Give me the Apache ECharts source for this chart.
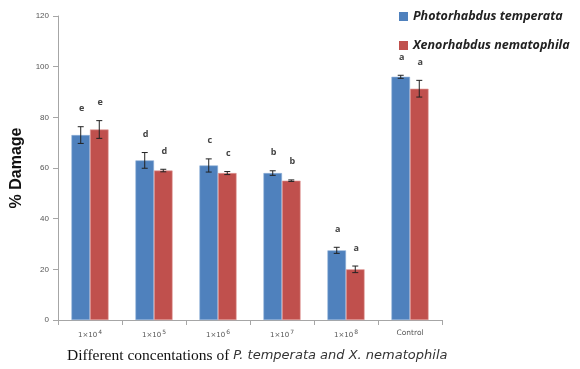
<!DOCTYPE html>
<html>
<head>
<meta charset="utf-8">
<script src="https://cdn.jsdelivr.net/npm/echarts@6/dist/echarts.min.js"></script>
<style>
  html, body { margin: 0; padding: 0; background: #fff; }
  #chart { width: 580px; height: 369px; }
</style>
</head>
<body>
<div id="chart"></div>
<script>
// Concentrations tested (exponent of 1×10^n), plus the control group
const categories = ['1×10^4', '1×10^5', '1×10^6', '1×10^7', '1×10^8', 'Control'];
const seriesNames = ['Photorhabdus temperata', 'Xenorhabdus nematophila'];

// Mean % damage
const ptMean = [73, 63, 61, 58, 27.5, 96];
const xnMean = [75.2, 59, 58, 55, 20, 91.3];

// Standard error
const ptErr = [3.3, 3.1, 2.6, 0.9, 1.2, 0.6];
const xnErr = [3.5, 0.5, 0.6, 0.3, 1.3, 3.3];

// Significance letters
const ptLetters = ['e', 'd', 'c', 'b', 'a', 'a'];
const xnLetters = ['e', 'd', 'c', 'b', 'a', 'a'];

const yTicks = [0, 20, 40, 60, 80, 100, 120];

const colors = ['#4F81BD', '#C0504D'];

const chart = echarts.init(document.getElementById('chart'));

function catLabel(c) {
  if (c.indexOf('^') < 0) return '{c|' + c + '}';
  const parts = c.split('^');
  return '{n|' + parts[0] + '}{s|' + parts[1] + '}';
}

// Error bars with a letter above each one; offset shifts onto the right bar of a pair
function errorSeries(means, errs, letters, sideIndex) {
  return {
    type: 'custom',
    name: seriesNames[sideIndex] + ' error',
    z: 5,
    data: means.map((m, i) => [i, m - errs[i], m + errs[i], letters[i]]),
    renderItem: function (params, api) {
      const i = api.value(0);
      const lowP = api.coord([i, api.value(1)]);
      const highP = api.coord([i, api.value(2)]);
      const band = api.size([1, 0])[0];
      const barW = band * 0.29;
      const x = lowP[0] + (sideIndex === 0 ? -barW / 2 : barW / 2);
      const cap = 3;
      const st = { stroke: '#222', lineWidth: 1 };
      return {
        type: 'group',
        children: [
          { type: 'line', shape: { x1: x, y1: highP[1], x2: x, y2: lowP[1] }, style: st },
          { type: 'line', shape: { x1: x - cap, y1: highP[1], x2: x + cap, y2: highP[1] }, style: st },
          { type: 'line', shape: { x1: x - cap, y1: lowP[1], x2: x + cap, y2: lowP[1] }, style: st },
          {
            type: 'text',
            style: {
              text: api.value(3),
              x: x + 1,
              y: highP[1] - 18,
              fill: '#444',
              font: 'bold 9px "Open Sans", sans-serif',
              align: 'center',
              verticalAlign: 'middle'
            }
          }
        ]
      };
    }
  };
}

chart.setOption({
  animation: false,
  color: colors,
  grid: { left: 58, right: 138, top: 16, bottom: 49 },
  legend: {
    orient: 'vertical',
    left: 394,
    top: 5,
    itemWidth: 9,
    itemHeight: 9,
    itemGap: 16,
    icon: 'rect',
    itemStyle: { borderWidth: 0 },
    data: seriesNames,
    textStyle: {
      fontFamily: '"Open Sans", sans-serif',
      fontStyle: 'italic',
      fontWeight: 'bold',
      fontSize: 12.5,
      color: '#222'
    }
  },
  xAxis: {
    type: 'category',
    data: categories,
    axisLine: { lineStyle: { color: '#a6a6a6' } },
    axisTick: { show: true, length: 5, lineStyle: { color: '#a6a6a6' } },
    axisLabel: {
      interval: 0,
      margin: 9,
      formatter: catLabel,
      rich: {
        n: { fontSize: 7, color: '#555', fontFamily: '"DejaVu Sans", sans-serif' },
        s: { fontSize: 6, color: '#555', verticalAlign: 'top', padding: [0, 0, 6, 1], fontFamily: '"DejaVu Sans", sans-serif' },
        c: { fontSize: 7.5, color: '#555', fontFamily: '"DejaVu Sans", sans-serif', padding: [0, 0, 5, 0] }
      }
    }
  },
  yAxis: {
    type: 'value',
    min: 0,
    max: 120,
    interval: 20,
    name: '% Damage',
    nameLocation: 'middle',
    nameGap: 32,
    nameTextStyle: {
      fontFamily: '"Liberation Sans", Arial, sans-serif',
      fontWeight: 'bold',
      fontSize: 16,
      color: '#111'
    },
    axisLine: { show: true, lineStyle: { color: '#a6a6a6' } },
    axisTick: { show: true, length: 5, lineStyle: { color: '#a6a6a6' } },
    splitLine: { show: false },
    axisLabel: {
      margin: 9,
      fontSize: 8,
      color: '#555',
      formatter: function (v) { return yTicks.indexOf(v) >= 0 ? String(v) : ''; }
    }
  },
  series: [
    {
      name: seriesNames[0],
      type: 'bar',
      data: ptMean,
      barGap: '0%',
      barCategoryGap: '42%',
      itemStyle: { color: colors[0], borderColor: '#8fb0d9', borderWidth: 0.6 }
    },
    {
      name: seriesNames[1],
      type: 'bar',
      data: xnMean,
      itemStyle: { color: colors[1], borderColor: '#e09a98', borderWidth: 0.6 }
    },
    errorSeries(ptMean, ptErr, ptLetters, 0),
    errorSeries(xnMean, xnErr, xnLetters, 1)
  ],
  graphic: [
    {
      type: 'text',
      left: 67,
      top: 348,
      style: {
        text: '{a|Different concentations of }{b|P. temperata and X. nematophila}',
        rich: {
          a: { fontFamily: '"Liberation Serif", "Times New Roman", serif', fontSize: 15.5, fill: '#111' },
          b: { fontFamily: '"DejaVu Sans", sans-serif', fontStyle: 'italic', fontSize: 13, fill: '#333' }
        }
      }
    }
  ]
});
</script>
</body>
</html>
